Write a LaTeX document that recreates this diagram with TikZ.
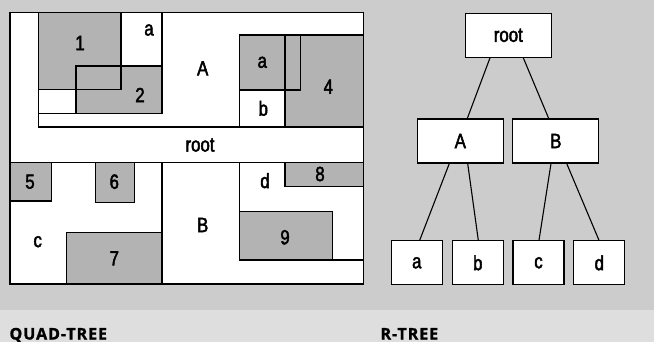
\documentclass[tikz,border=0pt]{standalone}
\usepackage{fontspec}
\setmainfont{Liberation Sans}[FakeStretch=0.82,FakeBold=2.2]
\newfontfamily\capfont{Open Sans}[LetterSpace=6,BoldFeatures={FakeBold=1.5}]
\definecolor{bggray}{HTML}{CCCCCC}
\definecolor{bandgray}{HTML}{DEDEDE}
\definecolor{boxgray}{HTML}{B3B3B3}
\begin{document}
\begin{tikzpicture}[x=1pt,y=-1pt,line width=1.1pt,
  region/.style={draw=black},
  filled/.style={fill=boxgray},
  lbl/.style={font=\fontsize{20.5}{22}\selectfont,inner sep=0pt},
  tbox/.style={draw=black,fill=white,inner sep=0pt,minimum height=44pt,
    font=\fontsize{20.5}{22}\selectfont},
  wide/.style={tbox,minimum width=86pt},
  narrow/.style={tbox,minimum width=51pt},
  caption/.style={font=\capfont\bfseries\fontsize{16}{18}\selectfont,
    inner sep=0pt,anchor=base west}]
% backgrounds
\fill[bggray] (0,0) rectangle (654,310);
\fill[bandgray] (0,310) rectangle (654,342);
\useasboundingbox (0,0) rectangle (654,342);

% ---------- quad-tree ----------
\fill[white] (10,12.3) rectangle (363.3,284);
% shaded objects
\fill[filled] (38.3,12.3) rectangle (121,89.3);
\fill[filled] (76,66) rectangle (162,113.3);
\fill[filled] (239.3,35) rectangle (300.7,90);
\fill[filled] (285,35) rectangle (363.3,127);
\fill[filled] (10,162.3) rectangle (51.7,201);
\fill[filled] (95.3,162.3) rectangle (134.7,202.7);
\fill[filled] (66.7,232.7) rectangle (162,284);
\fill[filled] (285,162.3) rectangle (363.3,186.7);
\fill[filled] (239.3,211.7) rectangle (332.7,260);
% outlines of the objects
\draw (38.3,12.3) rectangle (121,89.3);
\draw (76,66) rectangle (162,113.3);
\draw (239.3,35) rectangle (300.7,90);
\draw (285,35) rectangle (363.3,127);
\draw (10,162.3) rectangle (51.7,201);
\draw (95.3,162.3) rectangle (134.7,202.7);
\draw (66.7,232.7) rectangle (162,284);
\draw (285,162.3) rectangle (363.3,186.7);
\draw (239.3,211.7) rectangle (332.7,260);
% bounding regions
\draw[region] (38.3,12.3) rectangle (162,113.3);
\draw[region] (38.3,12.3) rectangle (363.3,127);
\draw[region] (239.3,35) rectangle (363.3,127);
\draw[region] (10,162.3) -- (363.3,162.3);
\draw[region] (162,162.3) -- (162,284);
\draw[region] (239.3,162.3) rectangle (363.3,260);
\draw[region] (10,12.3) rectangle (363.3,284);
% labels
\node[lbl] (q1) at (80,43) {1};
\node[lbl] (qa1) at (149,30) {a};
\node[lbl] (q2) at (140,95) {2};
\node[lbl] (qA) at (202.7,68.3) {A};
\node[lbl] (qa2) at (262.3,62.3) {a};
\node[lbl] (qb) at (263.3,108.3) {b};
\node[lbl] (q4) at (328.3,86.7) {4};
\node[lbl] (qroot) at (200,145) {root};
\node[lbl] (q5) at (30,181.7) {5};
\node[lbl] (q6) at (114.3,181.7) {6};
\node[lbl] (qc) at (37.7,241.7) {c};
\node[lbl] (q7) at (114.3,258.3) {7};
\node[lbl] (qB) at (202.7,225) {B};
\node[lbl] (qd) at (265,180.7) {d};
\node[lbl] (q8) at (320,174) {8};
\node[lbl] (q9) at (285,237.3) {9};

% ---------- r-tree ----------
\node[wide] (root) at (508.3,35.3) {root};
\node[wide] (A) at (460.3,141) {A};
\node[wide] (B) at (555.8,141) {B};
\node[narrow] (a) at (416.8,262.8) {a};
\node[narrow] (b) at (477.8,262.8) {b};
\node[narrow] (c) at (538.5,262.8) {c};
\node[narrow] (d) at (599.3,262.8) {d};
\draw ([xshift=-18.3pt]root.south) -- ([xshift=7pt]A.north);
\draw ([xshift=15pt]root.south) -- ([xshift=-7.1pt]B.north);
\draw ([xshift=-11pt]A.south) -- ([xshift=2.9pt]a.north);
\draw ([xshift=7.4pt]A.south) -- ([xshift=0.5pt]b.north);
\draw ([xshift=-4.8pt]B.south) -- ([xshift=0.5pt]c.north);
\draw ([xshift=10.9pt]B.south) -- ([xshift=-0.3pt]d.north);

% captions
\node[caption] (capq) at (9,339.5) {QUAD-TREE};
\node[caption] (capr) at (380,339.5) {R-TREE};
\end{tikzpicture}
\end{document}
